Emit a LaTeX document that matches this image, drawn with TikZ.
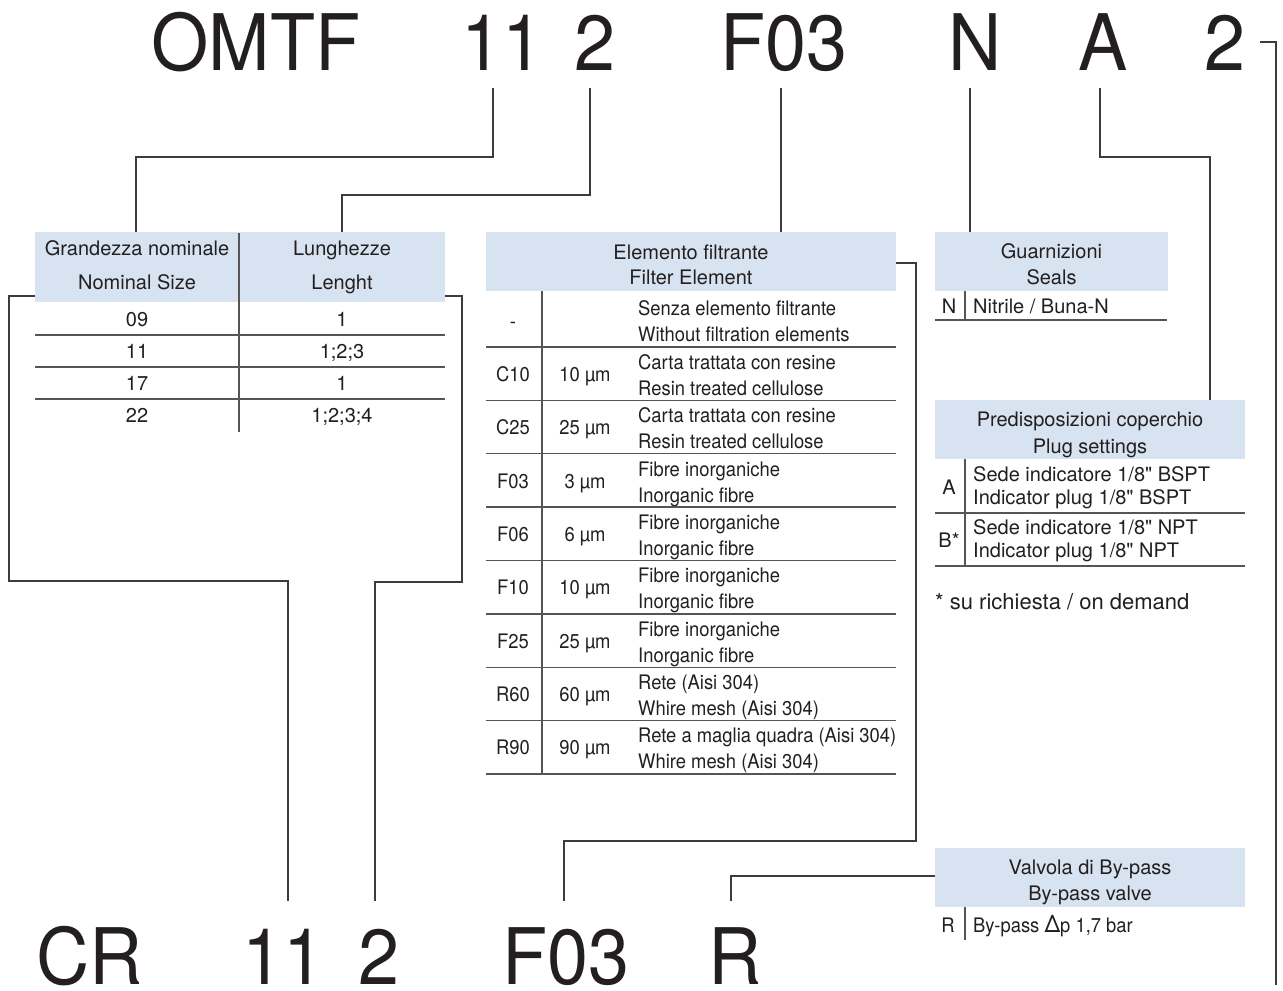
\documentclass[tikz,border=0pt]{standalone}
\usepackage{fontspec}
\setmainfont{TeX Gyre Heros}[Ligatures=TeXOff]
\newfontfamily\bigfont{TeX Gyre Heros}[FakeStretch=0.945]
\newfontfamily\condfont{TeX Gyre Heros}[FakeStretch=0.92,Ligatures=TeXOff]
\definecolor{hdrblue}{RGB}{215,227,240}
\definecolor{ink}{RGB}{35,31,32}
\definecolor{rulegray}{RGB}{85,85,85}
\definecolor{conngray}{RGB}{60,60,60}
\begin{document}
\begin{tikzpicture}[x=1pt,y=-1pt,
  hdr/.style={fill=hdrblue,draw=none,inner sep=0pt},
  txt/.style={inner sep=0pt,text=ink,text height=14.5pt,text depth=0pt,font=\fontsize{20}{24}\selectfont},
  txtc/.style={txt,font=\condfont\fontsize{20}{24}\selectfont},
  big/.style={inner sep=0pt,anchor=base,text=ink,font=\bigfont\fontsize{78}{80}\selectfont},
  tl/.style={draw=rulegray,line width=1.3pt},
  conn/.style={draw=conngray,line width=1.2pt}]
\useasboundingbox (0,0) rectangle (1283,991);
\fill[white] (0,0) rectangle (1283,991);

% ---------------- top code ----------------
\node[big] (tOMTF) at (256,70) {OMTF};
\node[big] (t11) at (502,70) {11};
\node[big] (t2a) at (595,70) {2};
\node[big] (tF03) at (783.5,70) {F03};
\node[big] (tN) at (975,70) {N};
\node[big] (tA) at (1103,70) {A};
\node[big] (t2b) at (1224.5,70) {2};
\coordinate (c11) at (493,88);
\coordinate (c2a) at (590,88);
\coordinate (cF03) at (781,88);
\coordinate (cN) at (970,88);
\coordinate (cA) at (1100,88);
\coordinate (c2b) at (1260,42);

% ---------------- bottom code ----------------
\node[big] (bCR) at (89.5,984) {CR};
\node[big] (b11) at (283,984) {11};
\node[big] (b2) at (378.5,984) {2};
\node[big] (bF03) at (565.5,984) {F03};
\node[big] (bR) at (735,984) {R};
\coordinate (e11) at (288,901);
\coordinate (e2) at (375,901);
\coordinate (eF03) at (564,901);
\coordinate (eR) at (731,901);
\coordinate (e2b) at (1276,985);

% ---------------- left table ----------------
\node[hdr,minimum width=410pt,minimum height=70pt] (lhdr) at (240,267) {};
\node[txt] (lh1) at (137,248) {Grandezza nominale};
\node[txt] (lh2) at (137,282) {Nominal Size};
\node[txt] (lh3) at (342,248) {Lunghezze};
\node[txt] (lh4) at (342,282) {Lenght};
\draw[tl] (239,233) -- (239,432);
\foreach \y in {335,367,399} \draw[tl] (35,\y) -- (445,\y);
\foreach \a/\b [count=\k] in {09/1,11/1;2;3,17/1,22/1;2;3;4}{
  \pgfmathsetmacro\yy{319+(\k-1)*32}
  \node[txt] (ls\k) at (137,\yy) {\a};
  \node[txt] (ll\k) at (342,\yy) {\b};
}
\coordinate (lhL) at (35,296);
\coordinate (lhR) at (445,296);

% ---------------- filter table ----------------
\node[hdr,minimum width=410pt,minimum height=59pt] (fhdr) at (691,261.5) {};
\node[txt] (fh1) at (691,252) {Elemento filtrante};
\node[txt] (fh2) at (691,277) {Filter Element};
\draw[tl] (542,291) -- (542,774);
\node[txtc] (fc0) at (513,321) {-};
\node[txtc,anchor=west] (fa0) at (638,308) {Senza elemento filtrante};
\node[txtc,anchor=west] (fb0) at (638,334) {Without filtration elements};
\foreach \c/\m/\a/\b [count=\k] in {
  C10/10/Carta trattata con resine/Resin treated cellulose,
  C25/25/Carta trattata con resine/Resin treated cellulose,
  F03/3/Fibre inorganiche/Inorganic fibre,
  F06/6/Fibre inorganiche/Inorganic fibre,
  F10/10/Fibre inorganiche/Inorganic fibre,
  F25/25/Fibre inorganiche/Inorganic fibre,
  R60/60/Rete (Aisi 304)/Whire mesh (Aisi 304),
  R90/90/Rete a maglia quadra (Aisi 304)/Whire mesh (Aisi 304)}{
  \pgfmathsetmacro\t{347+(\k-1)*53.375}
  \draw[tl] (486,\t) -- (896,\t);
  \node[txtc] (fc\k) at (513,\t+27) {\c};
  \node[txtc] (fm\k) at (585,\t+27) {\m\ µm};
  \node[txtc,anchor=west] (fa\k) at (638,\t+15) {\a};
  \node[txtc,anchor=west] (fb\k) at (638,\t+41) {\b};
}
\draw[tl] (486,774) -- (896,774);
\coordinate (fhR) at (896,263);

% ---------------- seals ----------------
\node[hdr,minimum width=233pt,minimum height=59pt] (ghdr) at (1051.5,261.5) {};
\node[txt] (gh1) at (1051.5,251) {Guarnizioni};
\node[txt] (gh2) at (1051.5,277) {Seals};
\node[txt] (gc1) at (949,306) {N};
\node[txt,anchor=west] (gt1) at (973,306) {Nitrile / Buna-N};
\draw[tl] (965,291) -- (965,320);
\draw[tl] (935,320) -- (1167,320);

% ---------------- plug settings ----------------
\node[hdr,minimum width=310pt,minimum height=59pt] (phdr) at (1090,429.5) {};
\node[txt] (ph1) at (1090,419) {Predisposizioni coperchio};
\node[txt] (ph2) at (1090,446) {Plug settings};
\node[txt] (pc1) at (949,487) {A};
\node[txt] (pc2) at (949,540) {B*};
\node[txt,anchor=west] (pa1) at (973,474) {Sede indicatore 1/8" BSPT};
\node[txt,anchor=west] (pb1) at (973,497) {Indicator plug 1/8" BSPT};
\node[txt,anchor=west] (pa2) at (973,527) {Sede indicatore 1/8" NPT};
\node[txt,anchor=west] (pb2) at (973,550) {Indicator plug 1/8" NPT};
\draw[tl] (965,459) -- (965,566);
\draw[tl] (935,513) -- (1245,513);
\draw[tl] (935,566) -- (1245,566);
\node[txt,anchor=west,font=\fontsize{22}{26}\selectfont] (pnote) at (935,602) {* su richiesta / on demand};

% ---------------- by-pass ----------------
\node[hdr,minimum width=310pt,minimum height=59pt] (vhdr) at (1090,877.5) {};
\node[txt] (vh1) at (1090,867) {Valvola di By-pass};
\node[txt] (vh2) at (1090,893) {By-pass valve};
\node[txtc] (vc1) at (948,925) {R};
\node[txtc,anchor=west] (vt1) at (973,925) {By-pass {\fontsize{24}{26}\selectfont Δ}p 1,7 bar};
\draw[tl] (965,907) -- (965,940);
\coordinate (vhL) at (935,876);

% ---------------- connectors ----------------
\draw[conn] (c11) -- ++(0,69) -| (lhdr.north -| 136,0);
\draw[conn] (c2a) -- ++(0,107) -| (lhdr.north -| 342,0);
\draw[conn] (cF03) -- (cF03 |- fhdr.north);
\draw[conn] (cN) -- (cN |- ghdr.north);
\draw[conn] (cA) -- ++(0,69) -| (phdr.north -| 1210,0);
\draw[conn] (c2b) -| (e2b);
\draw[conn] (lhL) -- ++(-26,0) |- (288,581) -- (e11);
\draw[conn] (lhR) -- ++(17,0) |- (375,582) -- (e2);
\draw[conn] (fhR) -- ++(20,0) |- (564,841) -- (eF03);
\draw[conn] (eR) |- (vhL);
\end{tikzpicture}
\end{document}
